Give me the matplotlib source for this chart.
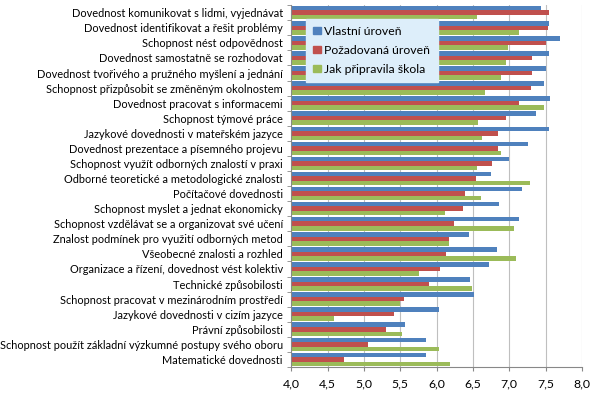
import numpy as np
import matplotlib
matplotlib.use('Agg')
import matplotlib.pyplot as plt
from matplotlib.patches import Patch

############# data ###############################################################

categories = [
    'Dovednost komunikovat s lidmi, vyjednávat',
    'Dovednost identifikovat a řešit problémy',
    'Schopnost nést odpovědnost',
    'Dovednost samostatně se rozhodovat',
    'Dovednost tvořivého a pružného myšlení a jednání',
    'Schopnost přizpůsobit se změněným okolnostem',
    'Dovednost pracovat s informacemi',
    'Schopnost týmové práce',
    'Jazykové dovednosti v mateřském jazyce',
    'Dovednost prezentace a písemného projevu',
    'Schopnost využít odborných znalostí v praxi',
    'Odborné teoretické a metodologické znalosti',
    'Počítačové dovednosti',
    'Schopnost myslet a jednat ekonomicky',
    'Schopnost vzdělávat se a organizovat své učení',
    'Znalost podmínek pro využití odborných metod',
    'Všeobecné znalosti a rozhled',
    'Organizace a řízení, dovednost vést kolektiv',
    'Technické způsobilosti',
    'Schopnost pracovat v mezinárodním prostředí',
    'Jazykové dovednosti v cizím jazyce',
    'Právní způsobilosti',
    'Schopnost použít základní výzkumné postupy svého oboru',
    'Matematické dovednosti',
]

vlastni = [7.44, 7.55, 7.70, 7.55, 7.51, 7.48, 7.56, 7.37, 7.55, 7.26, 7.00, 6.75,
           7.17, 6.86, 7.13, 6.44, 6.83, 6.72, 6.46, 6.51, 6.04, 5.56, 5.85, 5.86]
pozadovana = [7.55, 7.53, 7.51, 7.32, 7.31, 7.30, 7.14, 6.95, 6.84, 6.84, 6.76, 6.54,
              6.39, 6.36, 6.24, 6.17, 6.13, 6.05, 5.89, 5.55, 5.42, 5.30, 5.06, 4.72]
skola = [6.56, 7.14, 6.98, 6.96, 6.89, 6.66, 7.48, 6.57, 6.62, 6.89, 6.56, 7.29,
         6.61, 6.11, 7.07, 6.17, 7.09, 5.76, 6.49, 5.49, 4.59, 5.53, 6.04, 6.19]

series_names = ['Vlastní úroveň', 'Požadovaná úroveň', 'Jak připravila škola']
colors = ['#4F81BD', '#C0504D', '#9BBB59']
xticks = [4.0, 4.5, 5.0, 5.5, 6.0, 6.5, 7.0, 7.5, 8.0]

############ plot ################################################################

plt.rcParams['font.family'] = ['Lato', 'DejaVu Sans']

fig = plt.figure(figsize=(6.03, 3.98), dpi=100)
ax = fig.add_axes([0.483, 0.078, 0.482, 0.909])

n = len(categories)
y = np.arange(n)
h = 0.3
for i, (vals, c) in enumerate(zip([vlastni, pozadovana, skola], colors)):
    ax.barh(y - h + i * h, np.array(vals) - 4.0, left=4.0, height=h, color=c)

ax.set_xlim(4.0, 8.0)
ax.set_ylim(n - 0.5, -0.5)
ax.set_xticks(xticks)
ax.set_xticklabels([('%.1f' % t).replace('.', ',') for t in xticks])
ax.set_yticks(y)
ax.set_yticklabels(categories, fontsize=7.9)
ax.set_yticks(np.arange(n + 1) - 0.5, minor=True)
ax.tick_params(axis='y', which='major', length=0, pad=6)
ax.tick_params(axis='y', which='minor', length=3, color='#888888')
ax.tick_params(axis='x', length=3, color='#888888', labelsize=8.8, pad=5)
ax.xaxis.grid(True, color='#BFBFBF', lw=0.8)
ax.set_axisbelow(True)
for s in ['top', 'right']:
    ax.spines[s].set_visible(False)
for s in ['left', 'bottom']:
    ax.spines[s].set_color('#888888')

handles = [Patch(color=c, label=nm) for c, nm in zip(colors, series_names)]
leg = ax.legend(handles=handles, loc='upper left', bbox_to_anchor=(0.03, 0.98),
                fontsize=8.8, frameon=True, fancybox=False, handlelength=0.6,
                handleheight=0.6, handletextpad=0.3, borderpad=0.6, labelspacing=0.65)
leg.get_frame().set_facecolor('#DDEEFA')
leg.get_frame().set_edgecolor('#DDEEFA')
leg.get_frame().set_alpha(1)

fig.savefig('out.png', dpi=100)
